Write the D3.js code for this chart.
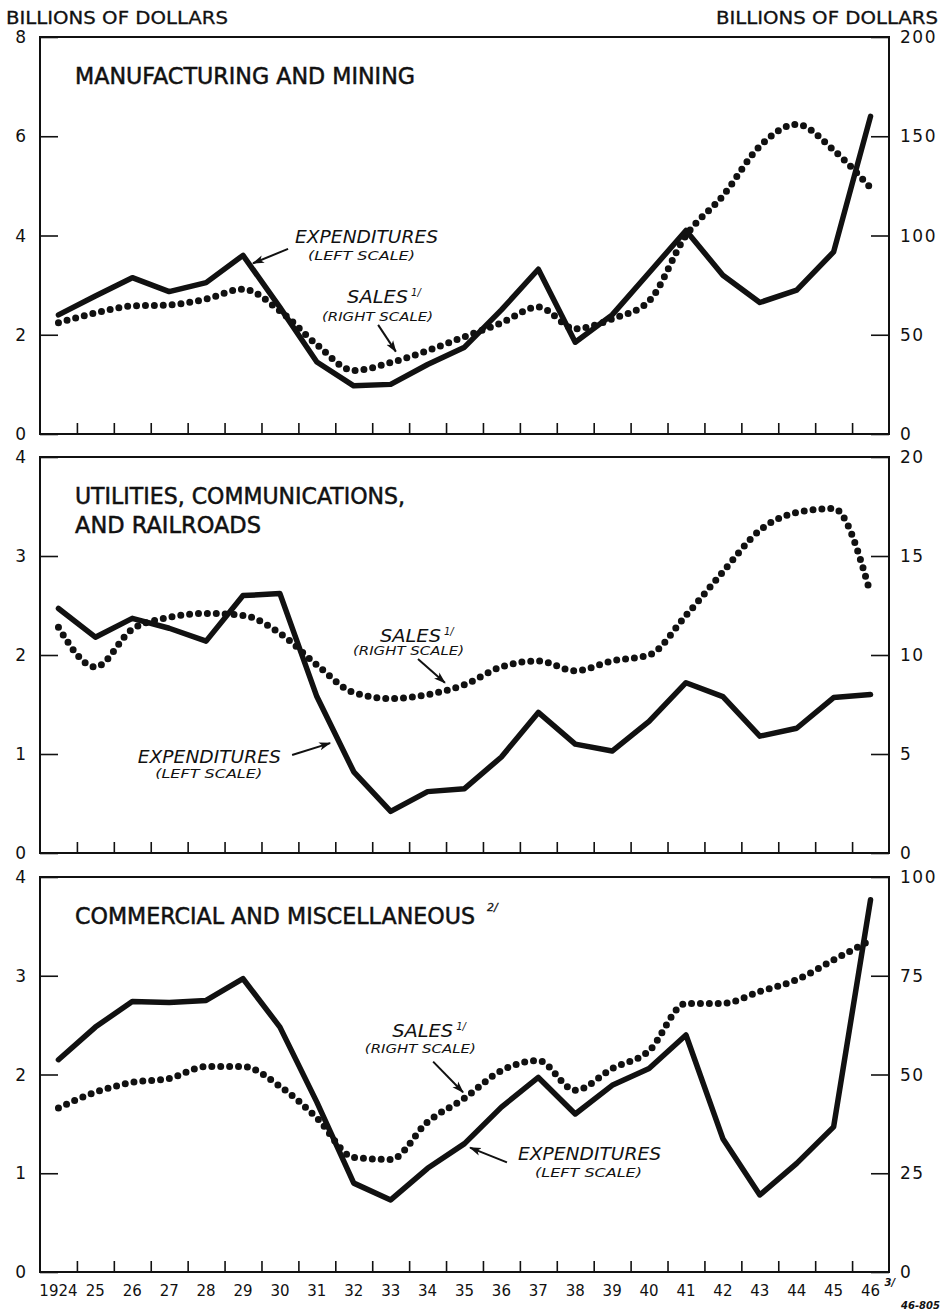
<!DOCTYPE html>
<html>
<head>
<meta charset="utf-8">
<script src="https://cdn.jsdelivr.net/npm/d3@7"></script>
<style>
  html, body { margin: 0; padding: 0; background: #fff; }
  svg { display: block; font-family: "DejaVu Sans", sans-serif; }
</style>
</head>
<body>
<div id="chart"></div>
<script>
// ===== DATA =====
const years = [1924, 1925, 1926, 1927, 1928, 1929, 1930, 1931, 1932, 1933, 1934, 1935,
  1936, 1937, 1938, 1939, 1940, 1941, 1942, 1943, 1944, 1945, 1946];
const yearLabels = ['1924', '25', '26', '27', '28', '29', '30', '31', '32', '33', '34', '35',
  '36', '37', '38', '39', '40', '41', '42', '43', '44', '45', '46'];

// manufacturing and mining (expenditures: left scale, sales: right scale)
const mfgExpenditures = [2.40, 2.78, 3.15, 2.87, 3.05, 3.60, 2.55, 1.45, 0.97, 1.00, 1.40, 1.75,
  2.50, 3.32, 1.85, 2.40, 3.25, 4.10, 3.20, 2.65, 2.90, 3.67, 6.40];
const mfgSales = [56, 61, 64.5, 65, 68, 73, 62, 45, 32, 36, 42, 49,
  56, 64, 53, 58, 67, 100, 120, 145, 156, 143, 124];

// utilities, communications and railroads
const utilExpenditures = [2.47, 2.18, 2.37, 2.27, 2.14, 2.60, 2.62, 1.58, 0.82, 0.42, 0.62, 0.65,
  0.97, 1.42, 1.10, 1.03, 1.33, 1.72, 1.58, 1.18, 1.26, 1.57, 1.60];
const utilSales = [11.4, 9.4, 11.3, 11.9, 12.1, 12.0, 11.1, 9.5, 8.1, 7.8, 8.0, 8.5,
  9.4, 9.7, 9.2, 9.7, 10.0, 12.0, 14.2, 16.3, 17.2, 17.4, 13.1];

// commercial and miscellaneous
const commExpenditures = [2.15, 2.48, 2.74, 2.73, 2.75, 2.97, 2.48, 1.72, 0.90, 0.73, 1.05, 1.30,
  1.67, 1.97, 1.60, 1.89, 2.06, 2.40, 1.35, 0.78, 1.10, 1.47, 3.77];
const commSales = [41.5, 45.5, 48, 49, 52, 52, 47, 39, 29, 28.5, 38, 44,
  51, 53.5, 46, 51.5, 56, 68, 68, 71, 74, 79, 84];

const leftTicks = [[0, 2, 4, 6, 8], [0, 1, 2, 3, 4], [0, 1, 2, 3, 4]];
const rightTicks = [[0, 50, 100, 150, 200], [0, 5, 10, 15, 20], [0, 25, 50, 75, 100]];
const panelTitles = [
  ['MANUFACTURING AND MINING'],
  ['UTILITIES, COMMUNICATIONS,', 'AND RAILROADS'],
  ['COMMERCIAL AND MISCELLANEOUS']
];

// ===== LAYOUT =====
const W = 943, H = 1311;
const X0 = 40, X1 = 889;
const panelBands = [[37, 434], [457, 853], [877, 1272]];
const titleWidths = [[340], [330, 186], [400]];

// annotation placement in (year, left-scale value) units
const annotations = [
  { sales: [1931.82, 2.64], salesSub: [1931.14, 2.28], salesArrow: [[1932.66, 2.20], [1933.14, 1.66]],
    exp: [1930.41, 3.85], expSub: [1930.76, 3.51], expArrow: [[1930.22, 3.73], [1929.27, 3.44]] },
  { sales: [1932.71, 2.13], salesSub: [1931.98, 2.00], salesArrow: [[1933.74, 1.96], [1934.47, 1.72]],
    exp: [1926.15, 0.91], expSub: [1926.62, 0.76], expArrow: [[1930.33, 0.99], [1931.36, 1.11]] },
  { sales: [1933.04, 2.38], salesSub: [1932.30, 2.22], salesArrow: [[1934.15, 2.13], [1934.96, 1.82]],
    exp: [1936.45, 1.13], expSub: [1936.91, 0.96], expArrow: [[1936.15, 1.11], [1935.15, 1.26]] }
];

const panels = [
  { exp: mfgExpenditures, sales: mfgSales },
  { exp: utilExpenditures, sales: utilSales },
  { exp: commExpenditures, sales: commSales }
];

const svg = d3.select('#chart').append('svg')
  .attr('width', W)
  .attr('height', H);

svg.append('rect').attr('width', W).attr('height', H).attr('fill', '#fff');

const defs = svg.append('defs');
defs.append('marker')
  .attr('id', 'arrowhead')
  .attr('viewBox', '0 -5 12 10')
  .attr('refX', 11)
  .attr('refY', 0)
  .attr('markerWidth', 12)
  .attr('markerHeight', 10)
  .attr('markerUnits', 'userSpaceOnUse')
  .attr('orient', 'auto')
  .append('path')
  .attr('d', 'M0,-4L12,0L0,4L3,0Z')
  .attr('fill', '#111');

const x = d3.scaleLinear().domain([1923.5, 1946.5]).range([X0, X1]);
const yearTicks = years.slice(0, -1).map(y => y + 0.5);

// header labels
svg.append('text').attr('x', 6).attr('y', 24)
  .attr('font-size', 18).attr('textLength', 222).attr('lengthAdjust', 'spacingAndGlyphs')
  .attr('fill', '#111').attr('stroke', '#111').attr('stroke-width', 0.3)
  .text('BILLIONS OF DOLLARS');
svg.append('text').attr('x', 716).attr('y', 24)
  .attr('font-size', 18).attr('textLength', 222).attr('lengthAdjust', 'spacingAndGlyphs')
  .attr('fill', '#111').attr('stroke', '#111').attr('stroke-width', 0.3)
  .text('BILLIONS OF DOLLARS');

panels.forEach((p, i) => drawPanel(p, i));

// year labels under the last panel
const bottom = panelBands[2][1];
svg.append('g').selectAll('text')
  .data(years)
  .join('text')
  .attr('x', d => x(d))
  .attr('y', bottom + 24)
  .attr('text-anchor', 'middle')
  .attr('font-size', 15)
  .attr('fill', '#111')
  .text((d, i) => yearLabels[i]);

svg.append('text')
  .attr('x', x(1946) + 14).attr('y', bottom + 14)
  .attr('font-size', 10).attr('font-style', 'italic').attr('font-weight', 'bold')
  .attr('fill', '#111').text('3/');

svg.append('text')
  .attr('x', 940).attr('y', H - 2)
  .attr('text-anchor', 'end')
  .attr('font-size', 10).attr('font-style', 'italic').attr('font-weight', 'bold')
  .attr('fill', '#111').text('46-805');

function drawPanel(p, i) {
  const [top, bot] = panelBands[i];
  const lt = leftTicks[i], rt = rightTicks[i];
  const yL = d3.scaleLinear().domain([0, lt[lt.length - 1]]).range([bot, top]);
  const yR = d3.scaleLinear().domain([0, rt[rt.length - 1]]).range([bot, top]);
  const g = svg.append('g').attr('class', 'panel');

  // frame
  g.append('rect')
    .attr('x', X0).attr('y', top)
    .attr('width', X1 - X0).attr('height', bot - top)
    .attr('fill', 'none').attr('stroke', '#111').attr('stroke-width', 2);

  // left axis: inward ticks
  const leftAxis = d3.axisRight(yL).tickValues(lt).tickSize(18).tickFormat('');
  g.append('g').attr('transform', `translate(${X0},0)`).call(leftAxis)
    .call(a => a.select('.domain').remove())
    .call(a => a.selectAll('line').attr('stroke', '#111').attr('stroke-width', 1.6));
  g.append('g').selectAll('text').data(lt).join('text')
    .attr('x', 26).attr('y', d => yL(d) + 6)
    .attr('text-anchor', 'end').attr('font-size', 17).attr('fill', '#111')
    .text(d => d);

  // right axis
  const rightAxis = d3.axisLeft(yR).tickValues(rt).tickSize(18).tickFormat('');
  g.append('g').attr('transform', `translate(${X1},0)`).call(rightAxis)
    .call(a => a.select('.domain').remove())
    .call(a => a.selectAll('line').attr('stroke', '#111').attr('stroke-width', 1.6));
  g.append('g').selectAll('text').data(rt).join('text')
    .attr('x', 900).attr('y', d => yR(d) + 6)
    .attr('font-size', 17).attr('letter-spacing', 1.5).attr('fill', '#111')
    .text(d => d);

  // bottom year boundary ticks
  const xAxis = d3.axisTop(x).tickValues(yearTicks).tickSize(11).tickFormat('');
  g.append('g').attr('transform', `translate(0,${bot})`).call(xAxis)
    .call(a => a.select('.domain').remove())
    .call(a => a.selectAll('line').attr('stroke', '#111').attr('stroke-width', 1.6));

  // title
  panelTitles[i].forEach((line, k) => {
    g.append('text')
      .attr('x', 75).attr('y', top + 47 + k * 29)
      .attr('font-size', 22.2).attr('fill', '#111')
      .attr('stroke', '#111').attr('stroke-width', 0.5)
      .attr('textLength', titleWidths[i][k]).attr('lengthAdjust', 'spacingAndGlyphs')
      .text(line);
  });
  if (i === 2) {
    // footnote mark after the title
    g.append('text')
      .attr('x', 75 + titleWidths[i][0] + 12).attr('y', top + 34)
      .attr('font-size', 11).attr('font-style', 'italic').attr('fill', '#111')
      .attr('stroke', '#111').attr('stroke-width', 0.3)
      .text('2/');
  }

  // sales: dotted, right scale
  const salesLine = d3.line()
    .x((d, k) => x(years[k]))
    .y(d => yR(d))
    .curve(d3.curveMonotoneX);
  g.append('path')
    .attr('d', salesLine(p.sales))
    .attr('fill', 'none')
    .attr('stroke', '#111')
    .attr('stroke-width', 7)
    .attr('stroke-linecap', 'round')
    .attr('stroke-dasharray', '0 8.9');

  // expenditures: solid, left scale
  const expLine = d3.line()
    .x((d, k) => x(years[k]))
    .y(d => yL(d));
  g.append('path')
    .attr('d', expLine(p.exp))
    .attr('fill', 'none')
    .attr('stroke', '#111')
    .attr('stroke-width', 5.5)
    .attr('stroke-linejoin', 'round')
    .attr('stroke-linecap', 'round');

  drawAnnotations(g, annotations[i], yL);
}

function drawAnnotations(g, a, yL) {
  const pt = d => [x(d[0]), yL(d[1])];
  const label = (pos, txt, size, len) => g.append('text')
    .attr('x', pt(pos)[0]).attr('y', pt(pos)[1])
    .attr('font-size', size).attr('font-style', 'italic')
    .attr('textLength', len).attr('lengthAdjust', 'spacingAndGlyphs')
    .attr('fill', '#111').text(txt);

  label(a.sales, 'SALES', 17, 61);
  g.append('text')
    .attr('x', pt(a.sales)[0] + 64).attr('y', pt(a.sales)[1] - 7)
    .attr('font-size', 10).attr('font-style', 'italic').attr('fill', '#111').text('1/');
  label(a.salesSub, '(RIGHT SCALE)', 12, 111);
  label(a.exp, 'EXPENDITURES', 17, 143);
  label(a.expSub, '(LEFT SCALE)', 12, 107);

  [a.salesArrow, a.expArrow].forEach(arr => {
    const [p0, p1] = arr.map(pt);
    g.append('path')
      .attr('d', d3.line()([p0, p1]))
      .attr('stroke', '#111')
      .attr('stroke-width', 2)
      .attr('fill', 'none')
      .attr('marker-end', 'url(#arrowhead)');
  });
}
</script>
</body>
</html>
